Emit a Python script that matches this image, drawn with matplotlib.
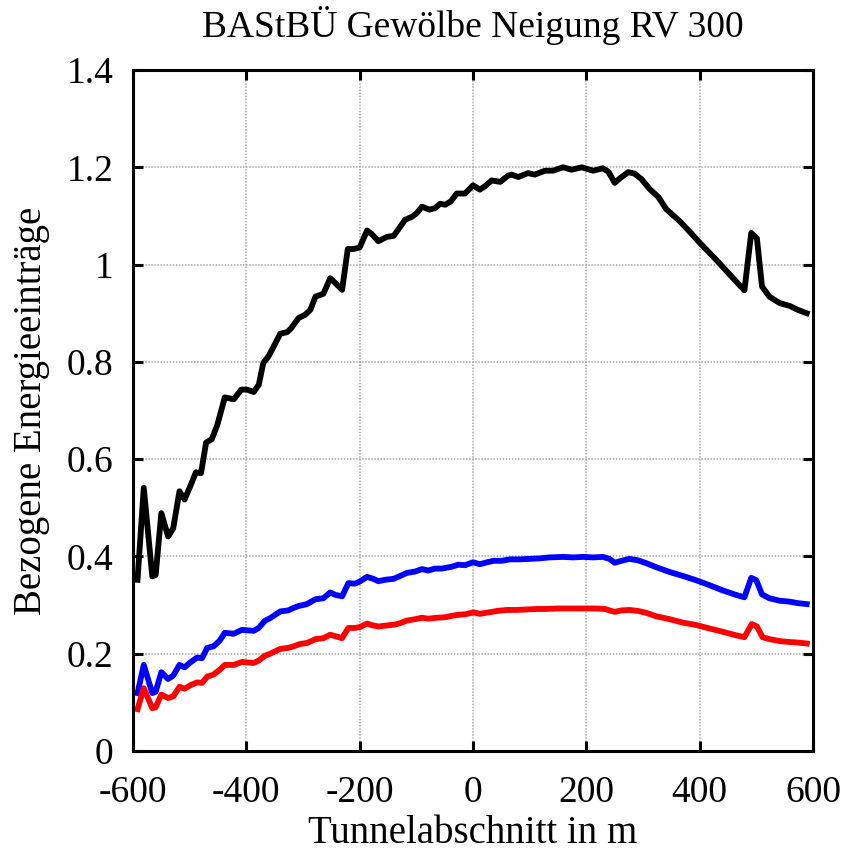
import matplotlib
matplotlib.use("Agg")
import matplotlib.pyplot as plt

# Gesamt (schwarz)
x_black = [-592, -581, -566, -560, -550, -538, -529, -518, -509, -499, -489, -480,
           -471, -461, -451, -438, -422, -409, -399, -387, -378, -370, -361, -340,
           -328, -321, -308, -296, -287, -278, -264, -252, -243, -231, -221, -211,
           -200, -187, -179, -167, -152, -140, -132, -120, -108, -99, -90, -77,
           -67, -58, -49, -39, -29, -14, 0, 12, 21, 33, 48, 62, 68, 80, 97, 109,
           127, 141, 159, 174, 192, 212, 229, 239, 250, 260, 274, 285, 297, 312,
           327, 341, 365, 382, 400, 429, 459, 479, 491, 501, 510, 523, 541, 559,
           573, 589]
y_black = [0.352, 0.541, 0.359, 0.362, 0.489, 0.441, 0.458, 0.534, 0.517, 0.544,
           0.573, 0.571, 0.634, 0.641, 0.671, 0.727, 0.723, 0.743, 0.743, 0.738,
           0.753, 0.798, 0.811, 0.858, 0.861, 0.869, 0.890, 0.897, 0.907, 0.934,
           0.940, 0.972, 0.962, 0.948, 1.032, 1.032, 1.035, 1.070, 1.063, 1.048,
           1.057, 1.059, 1.072, 1.092, 1.098, 1.106, 1.119, 1.113, 1.116, 1.125,
           1.123, 1.130, 1.146, 1.146, 1.163, 1.154, 1.161, 1.173, 1.170, 1.183,
           1.185, 1.180, 1.188, 1.185, 1.193, 1.193, 1.200, 1.195, 1.200, 1.193,
           1.198, 1.191, 1.168, 1.178, 1.190, 1.187, 1.176, 1.155, 1.139, 1.114,
           1.089, 1.068, 1.045, 1.010, 0.972, 0.947, 1.065, 1.054, 0.955, 0.934,
           0.921, 0.915, 0.907, 0.900]

# blau
x_blue = [-592, -581, -566, -560, -550, -538, -529, -518, -509, -499, -487, -478,
          -469, -458, -447, -438, -422, -408, -387, -378, -367, -358, -340, -326,
          -317, -308, -293, -278, -264, -252, -243, -231, -220, -208, -199, -187,
          -176, -167, -155, -140, -132, -117, -102, -90, -79, -67, -55, -46, -37,
          -26, -14, 0, 12, 25, 36, 51, 65, 83, 100, 118, 135, 159, 177, 194, 212,
          229, 241, 250, 262, 276, 291, 306, 323, 347, 370, 394, 417, 441, 464,
          479, 491, 500, 510, 523, 541, 559, 573, 589]
y_blue = [0.119, 0.177, 0.119, 0.122, 0.162, 0.148, 0.155, 0.177, 0.172, 0.182,
          0.192, 0.191, 0.212, 0.215, 0.227, 0.243, 0.241, 0.249, 0.247, 0.253,
          0.268, 0.273, 0.287, 0.289, 0.294, 0.298, 0.302, 0.312, 0.314, 0.326,
          0.321, 0.318, 0.345, 0.344, 0.349, 0.358, 0.354, 0.349, 0.352, 0.354,
          0.358, 0.366, 0.369, 0.374, 0.371, 0.375, 0.375, 0.377, 0.379, 0.383,
          0.382, 0.388, 0.384, 0.388, 0.391, 0.391, 0.394, 0.394, 0.395, 0.396,
          0.398, 0.399, 0.398, 0.399, 0.398, 0.399, 0.395, 0.387, 0.391, 0.395,
          0.392, 0.386, 0.378, 0.368, 0.360, 0.351, 0.341, 0.330, 0.321, 0.316,
          0.356, 0.351, 0.322, 0.314, 0.309, 0.307, 0.304, 0.302]

# rot
x_red = [-592, -581, -566, -560, -550, -538, -529, -518, -509, -499, -487, -478,
         -469, -458, -447, -438, -422, -408, -387, -378, -367, -358, -340, -326,
         -317, -305, -293, -278, -264, -252, -243, -231, -220, -208, -199, -187,
         -176, -167, -152, -137, -128, -117, -102, -90, -79, -64, -49, -37, -26,
         -14, 1, 12, 28, 43, 60, 78, 95, 113, 130, 148, 165, 183, 201, 218, 233,
         241, 250, 262, 276, 291, 306, 323, 347, 370, 394, 417, 441, 464, 479,
         492, 501, 511, 523, 541, 559, 573, 589]
y_red = [0.086, 0.129, 0.088, 0.090, 0.116, 0.109, 0.112, 0.132, 0.128, 0.135,
         0.141, 0.140, 0.153, 0.157, 0.167, 0.177, 0.177, 0.183, 0.181, 0.186,
         0.196, 0.200, 0.210, 0.212, 0.215, 0.220, 0.222, 0.230, 0.232, 0.239,
         0.236, 0.232, 0.253, 0.253, 0.255, 0.262, 0.258, 0.256, 0.258, 0.260,
         0.263, 0.268, 0.271, 0.274, 0.272, 0.274, 0.275, 0.278, 0.280, 0.281,
         0.285, 0.282, 0.285, 0.288, 0.290, 0.290, 0.291, 0.292, 0.292, 0.293,
         0.293, 0.293, 0.293, 0.293, 0.292, 0.289, 0.286, 0.289, 0.290, 0.288,
         0.284, 0.277, 0.271, 0.264, 0.259, 0.252, 0.245, 0.238, 0.234, 0.261,
         0.256, 0.234, 0.230, 0.226, 0.224, 0.223, 0.221]

x_ticks = [-600, -400, -200, 0, 200, 400, 600]
y_ticks = [0, 0.2, 0.4, 0.6, 0.8, 1.0, 1.2, 1.4]
y_ticklabels = ["0", "0.2", "0.4", "0.6", "0.8", "1", "1.2", "1.4"]

plt.rcParams["font.family"] = ["Liberation Serif", "DejaVu Serif"]
plt.rcParams["axes.unicode_minus"] = False

fig = plt.figure(figsize=(8.44, 8.57), dpi=100)
ax = fig.add_axes([133 / 844, 1 - 751 / 857, 680 / 844, 681 / 857])

ax.plot(x_black, y_black, color="black", lw=4.2)
ax.plot(x_blue, y_blue, color="blue", lw=4.2)
ax.plot(x_red, y_red, color="red", lw=4.2)

ax.set_xlim(-600, 600)
ax.set_ylim(0, 1.4)
ax.set_xticks(x_ticks)
ax.set_yticks(y_ticks)
ax.set_yticklabels(y_ticklabels)
ax.grid(True, color="#aaaaaa", ls=(0, (1, 1)), lw=1.1)
ax.tick_params(direction="in", length=7, width=2.2, labelsize=27, pad=14,
               top=True, right=True)
ax.tick_params(axis="x", pad=18)
for s in ax.spines.values():
    s.set_linewidth(2.2)

ax.set_title("BAStBÜ Gewölbe Neigung RV 300", fontsize=27, pad=24)
ax.set_xlabel("Tunnelabschnitt in m", fontsize=28, labelpad=3)
ax.set_ylabel("Bezogene Energieeinträge", fontsize=28, labelpad=12)

fig.savefig("out.png", dpi=100)
